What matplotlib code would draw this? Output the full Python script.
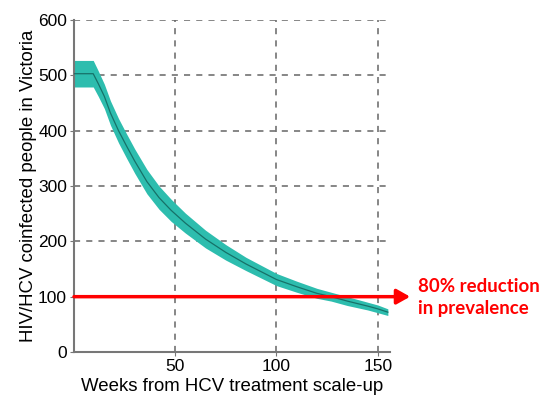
import matplotlib
matplotlib.use("Agg")
import matplotlib.pyplot as plt
import numpy as np

# weeks and model output
weeks = [0, 5, 9.5, 12, 15, 18, 22, 26, 30, 36, 42, 48, 55, 65, 75, 85,
         100, 110, 120, 127, 135, 145, 150, 155]
median = [503, 503, 503, 485, 462, 432, 400, 372, 345, 308, 279, 256, 233,
          204, 180, 159, 131, 118, 106, 100, 92, 83, 78, 72]
half_band = [24, 24, 24, 23, 22, 22, 22, 22, 22, 22, 21, 20, 18,
             16, 14, 12, 11, 10, 9, 8, 8, 7, 7, 6]

target = 100
xticks = [50, 100, 150]
yticks = [0, 100, 200, 300, 400, 500, 600]

plt.rcParams['font.family'] = ['Liberation Sans', 'DejaVu Sans']

fig = plt.figure(figsize=(5.53, 4.01), dpi=100)
ax = fig.add_axes([0.1338, 0.1222, 0.705 - 0.1338, 0.950 - 0.1222])

w = np.array(weeks)
m = np.array(median)
hb = np.array(half_band)
ax.fill_between(w, m - hb, m + hb, color='#2dbdae', lw=0, zorder=2)
ax.plot(w, m, color='#167168', lw=0.9, zorder=3)

ax.set_xlim(0, 156)
ax.set_ylim(0, 600)
ax.set_xticks(xticks)
ax.set_yticks(yticks)
ax.grid(True, ls=(0, (4, 4)), color='#666666', lw=1.1, zorder=1)
for s in ['top', 'right']:
    ax.spines[s].set_visible(False)
for s in ['left', 'bottom']:
    ax.spines[s].set_color('#777777')
    ax.spines[s].set_linewidth(1.5)
ax.tick_params(length=3, color='#777777', labelsize=12.5, pad=2)

ax.set_xlabel('Weeks from HCV treatment scale-up', fontsize=13.4, labelpad=3)
ax.set_ylabel('HIV/HCV coinfected people in Victoria', fontsize=13.4, labelpad=1)

ax.annotate('', xy=(166, target), xytext=(0, target),
            arrowprops=dict(arrowstyle='-|>,head_length=0.8,head_width=0.45',
                            color='#ff0000', lw=2.5, shrinkA=0, shrinkB=0),
            annotation_clip=False, zorder=4)

fig.text(0.756, 0.257, '80% reduction\nin prevalence', color='#ff0000',
         fontsize=13.4, fontweight='bold', family=['Lato', 'DejaVu Sans'],
         va='center', ha='left', linespacing=1.35)

fig.savefig('out.png', dpi=100)
